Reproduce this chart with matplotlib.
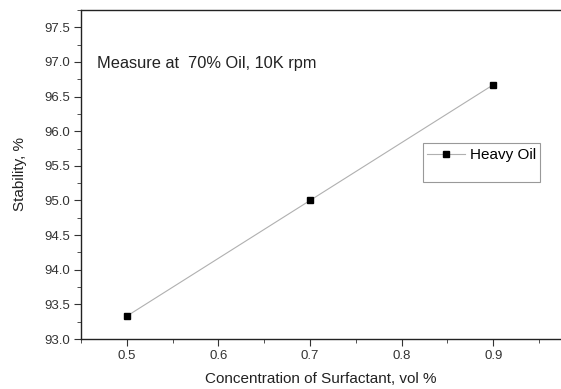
import matplotlib
matplotlib.use("Agg")
import matplotlib.pyplot as plt
from matplotlib.ticker import MultipleLocator
from matplotlib.patches import Rectangle

plt.rcParams['font.family'] = ['Liberation Sans', 'DejaVu Sans']

concentration = [0.5, 0.7, 0.9]
stability = [93.33, 95.0, 96.67]
note = 'Measure at  70% Oil, 10K rpm'

fig = plt.figure(figsize=(5.61, 3.89), dpi=100)
ax = fig.add_axes([81 / 561, 1 - 339 / 389, (561 - 81) / 561, (339 - 10) / 389])

ax.plot(concentration, stability, color='#b0b0b0', lw=0.8, marker='s', ms=4.5,
        mfc='black', mec='black', label='Heavy Oil')

ax.set_xlim(0.45, 0.974)
ax.set_ylim(93.0, 97.75)
ax.xaxis.set_major_locator(MultipleLocator(0.1))
ax.xaxis.set_minor_locator(MultipleLocator(0.05))
ax.yaxis.set_major_locator(MultipleLocator(0.5))
ax.yaxis.set_minor_locator(MultipleLocator(0.25))
ax.tick_params(which='major', direction='out', length=5, labelsize=9.5, colors='#333333', pad=3)
ax.tick_params(which='minor', direction='out', length=3, colors='#333333')
ax.set_xticks([0.5, 0.6, 0.7, 0.8, 0.9])
ax.set_xticklabels(['0.5', '0.6', '0.7', '0.8', '0.9'])
ax.set_yticks([93.0 + 0.5 * i for i in range(10)])
ax.set_yticklabels(['%.1f' % (93.0 + 0.5 * i) for i in range(10)])

ax.spines['right'].set_visible(False)
for s in ax.spines.values():
    s.set_color('#222222')
    s.set_linewidth(1.0)

ax.set_xlabel('Concentration of Surfactant, vol %', fontsize=11, color='#222222', labelpad=7)
ax.set_ylabel('Stability, %', fontsize=11, color='#222222', labelpad=12)

ax.text(0.467, 96.98, note, fontsize=11.8, color='#222222', va='center')

leg = ax.legend(loc='center left', bbox_to_anchor=((427 - 81) / 480, (339 - 155) / 329),
                fontsize=11, frameon=False, handlelength=2.5, handletextpad=0.3,
                borderpad=0.0, borderaxespad=0.0)
fig.patches.append(Rectangle((423 / 561, 1 - 182 / 389), 117 / 561, 39 / 389,
                             transform=fig.transFigure, fill=False,
                             edgecolor='#999999', lw=0.8))

fig.savefig('out.png', dpi=100)
